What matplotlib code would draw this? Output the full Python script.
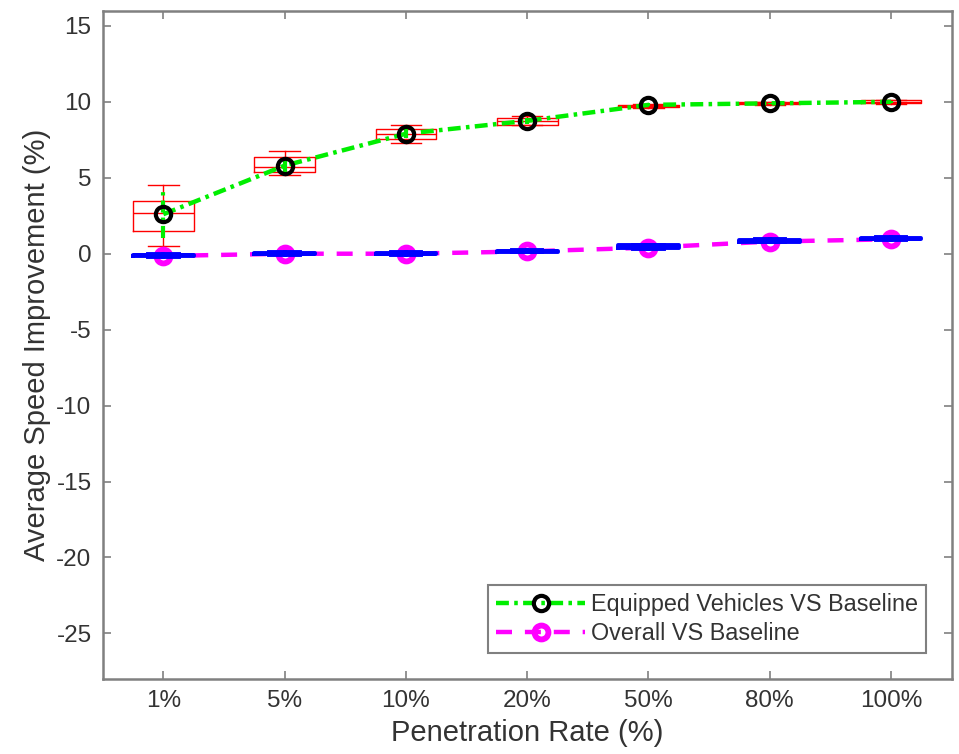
import numpy as np
import matplotlib
matplotlib.use('Agg')
from matplotlib import pyplot as plt

plt.rcParams['font.family'] = ['Liberation Sans', 'DejaVu Sans']
plt.rcParams['axes.unicode_minus'] = False

# penetration rate categories
rates = ['1%', '5%', '10%', '20%', '50%', '80%', '100%']

# equipped vehicles vs baseline (red boxes, green line)
eq_mean = [2.6, 5.8, 7.9, 8.75, 9.8, 9.9, 10.0]
eq_err = [1.55, 0.5, 0.3, 0.2, 0.1, 0.05, 0.05]
eq_whislo = [0.5, 5.2, 7.3, 8.45, 9.6, 9.82, 9.88]
eq_q1 = [1.5, 5.4, 7.55, 8.5, 9.64, 9.86, 9.9]
eq_med = [2.65, 5.7, 7.9, 8.75, 9.72, 9.92, 10.0]
eq_q3 = [3.5, 6.35, 8.2, 8.95, 9.8, 9.96, 10.1]
eq_whishi = [4.55, 6.75, 8.5, 9.05, 9.85, 10.0, 10.12]

# overall vs baseline (blue boxes, magenta line)
ov_mean = [-0.15, 0.0, 0.0, 0.15, 0.4, 0.8, 0.95]
ov_whislo = [-0.2, -0.08, -0.08, 0.08, 0.3, 0.75, 0.9]
ov_q1 = [-0.15, -0.04, -0.04, 0.12, 0.35, 0.8, 0.94]
ov_med = [-0.1, 0.0, 0.0, 0.16, 0.45, 0.85, 1.0]
ov_q3 = [-0.06, 0.04, 0.04, 0.2, 0.55, 0.9, 1.04]
ov_whishi = [-0.02, 0.08, 0.08, 0.24, 0.6, 0.94, 1.08]

x = np.arange(1, len(rates) + 1)


def make_stats(lo, q1, med, q3, hi):
    return [dict(whislo=a, q1=b, med=c, q3=d, whishi=e, fliers=[])
            for a, b, c, d, e in zip(lo, q1, med, q3, hi)]


fig = plt.figure(figsize=(9.59, 7.54), dpi=100)
ax = fig.add_axes([0.1071, 0.0995, 0.8853, 0.8863])

frame_grey = '#808080'
text_grey = '#333333'

# 1. red boxes for equipped vehicles
red = dict(color='red', linewidth=1.0)
ax.bxp(make_stats(eq_whislo, eq_q1, eq_med, eq_q3, eq_whishi), positions=x,
       widths=0.5, capwidths=0.25, boxprops=red, whiskerprops=red,
       capprops=red, medianprops=red, manage_ticks=False, zorder=2)

# green dash-dot line with error bars and black circles
eb = ax.errorbar(x, eq_mean, yerr=eq_err, fmt='none', ecolor='#00ee00',
                 elinewidth=3.0, capsize=0, zorder=3)
eb[2][0].set_linestyle((0, (2.9, 1.2, 0.8, 1.2)))
ax.plot(x, eq_mean, color='#00ee00', linewidth=3.2,
        dashes=(2.9, 1.2, 0.8, 1.2), marker='o', markersize=11,
        markerfacecolor='none', markeredgecolor='black', markeredgewidth=3.0,
        label='Equipped Vehicles VS Baseline', zorder=4)

# 2. magenta dashed line for overall
ax.plot(x, ov_mean, color='magenta', linewidth=3.2, dashes=(3.6, 2.9),
        marker='o', markersize=10, markerfacecolor='none',
        markeredgecolor='magenta', markeredgewidth=4.2,
        label='Overall VS Baseline', zorder=3)

# blue boxes for overall
blue = dict(color='blue', linewidth=2.8)
ax.bxp(make_stats(ov_whislo, ov_q1, ov_med, ov_q3, ov_whishi), positions=x,
       widths=0.5, capwidths=0.25, boxprops=blue, whiskerprops=blue,
       capprops=blue, medianprops=blue, manage_ticks=False, zorder=5)

# axes limits and ticks
ax.set_xlim(0.5, 7.5)
ax.set_ylim(-28, 16)
ax.set_xticks(x)
ax.set_xticklabels(rates)
ax.set_yticks(np.arange(-25, 16, 5))
ax.tick_params(axis='both', direction='in', length=6, width=1.2,
               color=frame_grey, labelcolor=text_grey, labelsize=17.5,
               top=True, right=True, pad=8)
for s in ax.spines.values():
    s.set_color(frame_grey)
    s.set_linewidth(1.8)

ax.set_xlabel('Penetration Rate (%)', fontsize=21, color=text_grey, labelpad=5)
ax.set_ylabel('Average Speed Improvement (%)', fontsize=21, color=text_grey, labelpad=4)

leg = ax.legend(loc='lower right', fontsize=16.8, handlelength=3.8,
                handletextpad=0.25, labelspacing=0.25, borderpad=0.35,
                borderaxespad=1.1, fancybox=False, framealpha=1)
leg.get_frame().set_edgecolor(frame_grey)
leg.get_frame().set_linewidth(1.5)
for t in leg.get_texts():
    t.set_color(text_grey)

plt.savefig('out.png', dpi=100)
